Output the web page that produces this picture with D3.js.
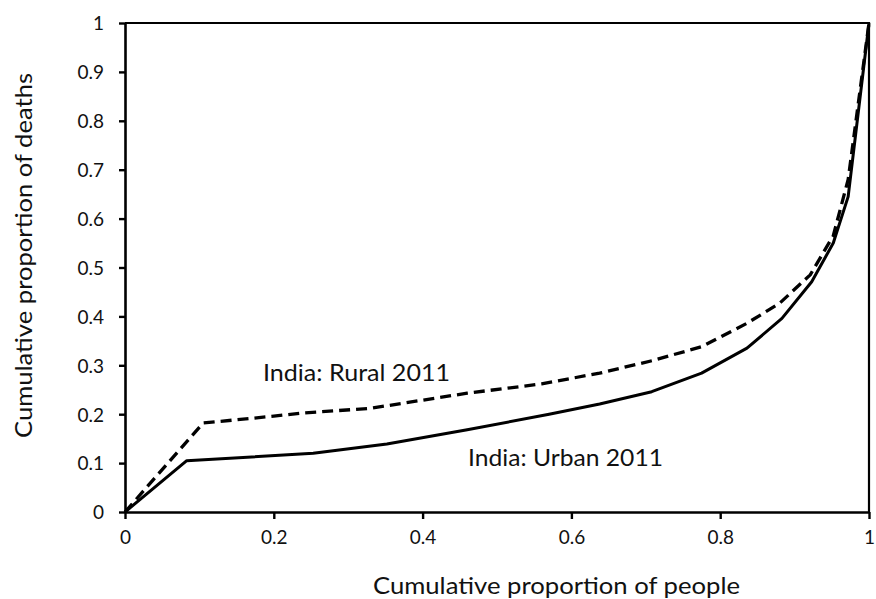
<!DOCTYPE html>
<html>
<head>
<meta charset="utf-8">
<script src="https://cdn.jsdelivr.net/npm/d3@7"></script>
<style>
  html, body { margin: 0; padding: 0; background: #fff; }
  svg text { font-family: Lato, "Open Sans", sans-serif; fill: #111; }
</style>
</head>
<body>
<svg id="chart" width="876" height="599"></svg>
<script>
// Concentration curves: cumulative share of deaths vs cumulative share of people
const urbanX = [0, 0.083, 0.253, 0.352, 0.46, 0.57, 0.638, 0.708, 0.775, 0.836, 0.883, 0.923, 0.952, 0.972, 1];
const urbanY = [0, 0.105, 0.12, 0.139, 0.168, 0.2, 0.221, 0.246, 0.284, 0.335, 0.396, 0.471, 0.55, 0.645, 1];
const ruralX = [0, 0.105, 0.2, 0.235, 0.33, 0.46, 0.56, 0.638, 0.71, 0.775, 0.836, 0.88, 0.921, 0.952, 0.972, 1];
const ruralY = [0, 0.182, 0.196, 0.202, 0.212, 0.243, 0.262, 0.284, 0.31, 0.338, 0.386, 0.427, 0.485, 0.565, 0.68, 1];

const xTicks = [0, 0.2, 0.4, 0.6, 0.8, 1];
const yTicks = [0, 0.1, 0.2, 0.3, 0.4, 0.5, 0.6, 0.7, 0.8, 0.9, 1];
const seriesNames = ["India: Rural 2011", "India: Urban 2011"];

const svg = d3.select("#chart");
const plotL = 125, plotR = 869, plotT = 23, plotB = 512;

const x = d3.scaleLinear().domain([0, 1]).range([plotL, plotR]);
const y = d3.scaleLinear().domain([0, 1]).range([plotB, plotT]);

const fmt = d => d === 0 || d === 1 ? String(d) : d.toFixed(1);

// frame (top and right edges)
svg.append("path")
  .attr("d", `M${plotL},${plotT}H${plotR}V${plotB}`)
  .attr("fill", "none").attr("stroke", "#000").attr("stroke-width", 2.2);

// x axis
const gx = svg.append("g").attr("transform", `translate(0,${plotB})`)
  .call(d3.axisBottom(x).tickValues(xTicks).tickFormat(fmt).tickSize(7).tickSizeOuter(0).tickPadding(6));
// y axis
const gy = svg.append("g").attr("transform", `translate(${plotL},0)`)
  .call(d3.axisLeft(y).tickValues(yTicks).tickFormat(fmt).tickSize(6).tickSizeOuter(0).tickPadding(15));

[gx, gy].forEach(g => {
  g.select(".domain").attr("stroke", "#000").attr("stroke-width", 2.6);
  g.selectAll(".tick line").attr("stroke", "#000").attr("stroke-width", 2.4);
  g.selectAll(".tick text").style("font-size", "19px").style("font-family", "Lato, sans-serif").attr("fill", "#111");
});
gx.selectAll(".tick text").attr("dy", "1.02em");
gy.selectAll(".tick text").attr("dy", "0.36em");

const line = d3.line().x(d => x(d[0])).y(d => y(d[1]));

// rural: dashed
svg.append("path")
  .datum(d3.zip(ruralX, ruralY))
  .attr("d", line)
  .attr("fill", "none").attr("stroke", "#000")
  .attr("stroke-width", 3.3).attr("stroke-dasharray", "11,6")
  .attr("stroke-linejoin", "round");

// urban: solid
svg.append("path")
  .datum(d3.zip(urbanX, urbanY))
  .attr("d", line)
  .attr("fill", "none").attr("stroke", "#000")
  .attr("stroke-width", 3).attr("stroke-linejoin", "round");

// series labels
svg.append("text").attr("x", 263).attr("y", 381)
  .attr("textLength", 187).attr("lengthAdjust", "spacingAndGlyphs")
  .style("font-size", "23.5px").text(seriesNames[0]);
svg.append("text").attr("x", 468).attr("y", 466)
  .attr("textLength", 195).attr("lengthAdjust", "spacingAndGlyphs")
  .style("font-size", "23.5px").text(seriesNames[1]);

// axis titles
svg.append("text").attr("x", 373).attr("y", 594)
  .attr("textLength", 367).attr("lengthAdjust", "spacingAndGlyphs")
  .style("font-size", "23px").text("Cumulative proportion of people");
svg.append("text")
  .attr("transform", "translate(32,438) rotate(-90)")
  .attr("textLength", 365).attr("lengthAdjust", "spacingAndGlyphs")
  .style("font-size", "23px").text("Cumulative proportion of deaths");
</script>
</body>
</html>
